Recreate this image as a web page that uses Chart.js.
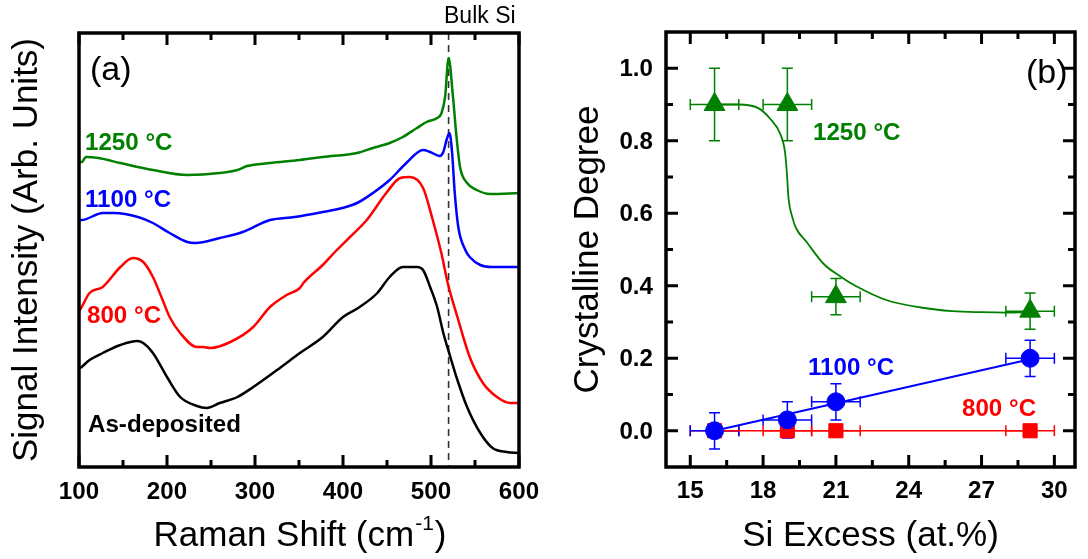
<!DOCTYPE html>
<html>
<head>
<meta charset="utf-8">
<title>Raman spectra and crystalline degree</title>
<script src="https://cdn.jsdelivr.net/npm/chart.js@4.4.1/dist/chart.umd.min.js"></script>
<style>
  html, body { margin: 0; padding: 0; background: #fff; }
  #wrap { position: relative; width: 1088px; height: 559px; overflow: hidden; background: #fff; }
  canvas { position: absolute; top: 0; }
</style>
</head>
<body>
<div id="wrap">
  <canvas id="ramanChart" width="544" height="559" style="left:0"></canvas>
  <canvas id="crystChart" width="544" height="559" style="left:544px"></canvas>
</div>
<script>
// ---- panel (a): Raman spectra (intensity in arbitrary units) ----
const shiftAsDep = [100,103,112,127,147,166,173,184,200,215,234,245,260,280,298,325,351,377,400,419,439,453,468,484,491,499,507,514,522,530,541,556,570,586,600];
const intAsDep   = [98,100,107,114,122,126,124,114,90,70,61,59,64,70,80,97,114,130,150,160,174,190,200,200,197,180,160,134,110,87,60,34,19,15,14];

const shift800 = [100,103,112,127,147,161,173,184,195,203,215,234,241,249,272,298,317,336,351,355,377,393,408,427,450,465,476,491,502,512,519,530,544,559,575,590,600];
const int800   = [156,160,174,180,200,209,205,190,167,150,134,120,120,119,125,140,160,172,179,184,202,217,230,247,275,289,290,279,247,213,184,150,110,84,70,64,64];

const shift1100 = [100,103,127,140,167,184,203,223,232,260,286,317,345,377,399,416,434,453,472,491,499,510,514,518,521,524,527,531,539,544,556,570,600];
const int1100   = [247,247,254,254,250,244,234,225,224,229,235,247,250,255,259,264,274,287,304,317,315,311,315,328,334,314,274,240,217,210,202,200,200];

const shift1250 = [100,103,108,122,147,184,223,260,280,291,317,351,377,416,434,453,468,484,495,507,512,516,520,525,529,533,541,552,567,600];
const int1250   = [305,305,310,309,304,297,292,294,297,301,304,307,310,314,319,324,330,339,345,349,354,370,409,370,330,300,284,277,273,274];

const bulkSiShift = 520;
const ramanTicks = [100, 200, 300, 400, 500, 600];
const ramanMinorTicks = [150, 250, 350, 450, 550];

// ---- panel (b): crystalline degree vs Si excess ----
const siExcess    = [16, 19, 21, 29];
const siExcessErr = [1, 1, 1, 1];
const cryst800    = [0, 0, 0, 0];
const cryst1100   = [0, 0.03, 0.08, 0.20];
const err1100     = [0.05, 0.05, 0.05, 0.05];
const cryst1250   = [0.90, 0.90, 0.37, 0.33];
const err1250     = [0.10, 0.10, 0.05, 0.05];

const fit800X  = [16, 29];
const fit800Y  = [0, 0];
const fit1100X = [16, 29];
const fit1100Y = [0, 0.197];
const fit1250X = [16, 17, 17.8, 18.3, 18.7, 18.9, 18.97, 19.05, 19.2, 19.35, 19.8, 20.5, 21.2, 21.8, 23.1, 24.5, 25.8, 27, 28, 29];
const fit1250Y = [0.90, 0.90, 0.89, 0.86, 0.82, 0.77, 0.72, 0.64, 0.59, 0.56, 0.52, 0.46, 0.425, 0.40, 0.36, 0.34, 0.33, 0.327, 0.326, 0.327];

const excessTicks = [15, 18, 21, 24, 27, 30];
const excessMinorTicks = [16.5, 19.5, 22.5, 25.5, 28.5];
const crystTicks = [0, 0.2, 0.4, 0.6, 0.8, 1.0];
const crystMinorTicks = [0.1, 0.3, 0.5, 0.7, 0.9];

const GREEN = '#008000', BLUE = '#0000ff', RED = '#ff0000', BLACK = '#000000';
const FONT = '"Liberation Sans", Arial, Helvetica, sans-serif';

function toXY(xs, ys) {
    return xs.map((x, i) => ({ x: x, y: ys[i] }));
}

function drawText(ctx, s, x, y, size, weight, color, align, stretch) {
    ctx.save();
    ctx.translate(x, y);
    ctx.scale(stretch || 1, 1);
    ctx.font = weight + ' ' + size + 'px ' + FONT;
    ctx.fillStyle = color;
    ctx.textAlign = align || 'left';
    ctx.textBaseline = 'alphabetic';
    ctx.fillText(s, 0, 0);
    ctx.restore();
}

// vertical title, x = baseline position, y = centre
function drawVText(ctx, s, x, y, size, color) {
    ctx.save();
    ctx.translate(x, y);
    ctx.rotate(-Math.PI / 2);
    ctx.font = size + 'px ' + FONT;
    ctx.fillStyle = color;
    ctx.textAlign = 'center';
    ctx.textBaseline = 'alphabetic';
    ctx.fillText(s, 0, 0);
    ctx.restore();
}

function drawFrame(ctx, area) {
    ctx.save();
    ctx.strokeStyle = BLACK;
    ctx.lineWidth = 3.5;
    ctx.strokeRect(area.left, area.top, area.right - area.left, area.bottom - area.top);
    ctx.restore();
}

// inward ticks
function xTicks(ctx, scale, area, values, len, sides) {
    ctx.save();
    ctx.strokeStyle = BLACK;
    ctx.lineWidth = 3;
    values.forEach(v => {
        const px = scale.getPixelForValue(v);
        ctx.beginPath();
        if (sides.includes('bottom')) { ctx.moveTo(px, area.bottom); ctx.lineTo(px, area.bottom - len); }
        if (sides.includes('top')) { ctx.moveTo(px, area.top); ctx.lineTo(px, area.top + len); }
        ctx.stroke();
    });
    ctx.restore();
}

function yTicks(ctx, scale, area, values, len, sides) {
    ctx.save();
    ctx.strokeStyle = BLACK;
    ctx.lineWidth = 3;
    values.forEach(v => {
        const py = scale.getPixelForValue(v);
        ctx.beginPath();
        if (sides.includes('left')) { ctx.moveTo(area.left, py); ctx.lineTo(area.left + len, py); }
        if (sides.includes('right')) { ctx.moveTo(area.right, py); ctx.lineTo(area.right - len, py); }
        ctx.stroke();
    });
    ctx.restore();
}

// ---------- panel (a) ----------
const ramanFrame = {
    id: 'ramanFrame',
    beforeDatasetsDraw(chart) {
        const { ctx, chartArea: a, scales } = chart;
        const px = scales.x.getPixelForValue(bulkSiShift);
        ctx.save();
        ctx.strokeStyle = '#333';
        ctx.lineWidth = 1.6;
        ctx.setLineDash([7, 5]);
        ctx.beginPath();
        ctx.moveTo(px, a.top);
        ctx.lineTo(px, a.bottom);
        ctx.stroke();
        ctx.restore();
    },
    afterDraw(chart) {
        const { ctx, chartArea: a, scales } = chart;
        drawFrame(ctx, a);
        xTicks(ctx, scales.x, a, ramanTicks, 12, ['top', 'bottom']);
        xTicks(ctx, scales.x, a, ramanMinorTicks, 7, ['top', 'bottom']);
        ramanTicks.forEach(v => {
            drawText(ctx, String(v), scales.x.getPixelForValue(v), 499, 23, 'bold', BLACK, 'center', 1.05);
        });

        // x title with superscript
        ctx.save();
        ctx.font = '35px ' + FONT;
        const main = 'Raman Shift (cm', tail = ')';
        const w1 = ctx.measureText(main).width;
        const w3 = ctx.measureText(tail).width;
        ctx.font = '21px ' + FONT;
        const w2 = ctx.measureText('-1').width;
        ctx.restore();
        let x0 = (a.left + a.right) / 2 - (w1 + w2 + w3) / 2;
        drawText(ctx, main, x0, 546, 35, 'normal', BLACK, 'left');
        drawText(ctx, '-1', x0 + w1 + 1, 530, 21, 'normal', BLACK, 'left');
        drawText(ctx, tail, x0 + w1 + w2 + 2, 546, 35, 'normal', BLACK, 'left');

        drawVText(ctx, 'Signal Intensity (Arb. Units)', 37, (a.top + a.bottom) / 2, 35, BLACK);

        drawText(ctx, '(a)', 90, 80, 34, 'normal', BLACK, 'left');
        drawText(ctx, 'Bulk Si', 444, 23, 23, 'normal', BLACK, 'left');
        drawText(ctx, '1250 °C', 85, 150, 23, 'bold', GREEN, 'left', 1.05);
        drawText(ctx, '1100 °C', 85, 207, 23, 'bold', BLUE, 'left', 1.05);
        drawText(ctx, '800 °C', 87, 323, 23, 'bold', RED, 'left', 1.05);
        drawText(ctx, 'As-deposited', 88, 432, 23, 'bold', BLACK, 'left', 1.05);
    }
};

function spectrum(label, xs, ys, color) {
    return {
        label: label,
        data: toXY(xs, ys),
        borderColor: color,
        borderWidth: 2.5,
        pointRadius: 0,
        fill: false,
        cubicInterpolationMode: 'monotone'
    };
}

new Chart(document.getElementById('ramanChart'), {
    type: 'line',
    data: {
        datasets: [
            spectrum('1250 °C', shift1250, int1250, GREEN),
            spectrum('1100 °C', shift1100, int1100, BLUE),
            spectrum('800 °C', shift800, int800, RED),
            spectrum('As-deposited', shiftAsDep, intAsDep, BLACK)
        ]
    },
    options: {
        responsive: false,
        animation: false,
        devicePixelRatio: 1,
        layout: { padding: { left: 79, top: 33, right: 25, bottom: 92 } },
        plugins: { legend: { display: false }, tooltip: { enabled: false } },
        scales: {
            x: { type: 'linear', min: 100, max: 600, display: false },
            y: { type: 'linear', min: 0, max: 434, display: false }
        }
    },
    plugins: [ramanFrame]
});

// ---------- panel (b) ----------
const OFF = 544; // canvas offset in the page

function errorBars(ctx, sx, sy, xs, ys, xerr, yerr, color) {
    const cap = 5.5;
    ctx.save();
    ctx.strokeStyle = color;
    ctx.lineWidth = 1.5;
    xs.forEach((x, i) => {
        const px = sx.getPixelForValue(x), py = sy.getPixelForValue(ys[i]);
        ctx.beginPath();
        if (xerr && xerr[i]) {
            const l = sx.getPixelForValue(x - xerr[i]), r = sx.getPixelForValue(x + xerr[i]);
            ctx.moveTo(l, py); ctx.lineTo(r, py);
            ctx.moveTo(l, py - cap); ctx.lineTo(l, py + cap);
            ctx.moveTo(r, py - cap); ctx.lineTo(r, py + cap);
        }
        if (yerr && yerr[i]) {
            const t = sy.getPixelForValue(ys[i] + yerr[i]), b = sy.getPixelForValue(ys[i] - yerr[i]);
            ctx.moveTo(px, t); ctx.lineTo(px, b);
            ctx.moveTo(px - cap, t); ctx.lineTo(px + cap, t);
            ctx.moveTo(px - cap, b); ctx.lineTo(px + cap, b);
        }
        ctx.stroke();
    });
    ctx.restore();
}

const crystFrame = {
    id: 'crystFrame',
    beforeDatasetsDraw(chart) {
        const { ctx, scales } = chart;
        errorBars(ctx, scales.x, scales.y, siExcess, cryst800, siExcessErr, null, RED);
        errorBars(ctx, scales.x, scales.y, siExcess, cryst1250, siExcessErr, err1250, GREEN);
        errorBars(ctx, scales.x, scales.y, siExcess, cryst1100, siExcessErr, err1100, BLUE);
    },
    afterDraw(chart) {
        const { ctx, chartArea: a, scales } = chart;
        drawFrame(ctx, a);
        xTicks(ctx, scales.x, a, excessTicks, 12, ['top', 'bottom']);
        xTicks(ctx, scales.x, a, excessMinorTicks, 7, ['top', 'bottom']);
        yTicks(ctx, scales.y, a, crystTicks, 12, ['left', 'right']);
        yTicks(ctx, scales.y, a, crystMinorTicks, 7, ['left', 'right']);
        excessTicks.forEach(v => {
            drawText(ctx, String(v), scales.x.getPixelForValue(v), 498, 23, 'bold', BLACK, 'center', 1.05);
        });
        crystTicks.forEach(v => {
            drawText(ctx, v.toFixed(1), 653 - OFF, scales.y.getPixelForValue(v) + 8, 23, 'bold', BLACK, 'right', 1.05);
        });
        drawText(ctx, 'Si Excess (at.%)', (a.left + a.right) / 2, 546, 35, 'normal', BLACK, 'center');
        drawVText(ctx, 'Crystalline Degree', 598 - OFF, (a.top + a.bottom) / 2, 35, BLACK);

        drawText(ctx, '(b)', 1026 - OFF, 83, 34, 'normal', BLACK, 'left');
        drawText(ctx, '1250 °C', 813 - OFF, 140, 23, 'bold', GREEN, 'left', 1.05);
        drawText(ctx, '1100 °C', 808 - OFF, 375, 23, 'bold', BLUE, 'left', 1.05);
        drawText(ctx, '800 °C', 962 - OFF, 416, 23, 'bold', RED, 'left', 1.05);
    }
};

function markers(label, ys, style, radius, color) {
    return {
        label: label,
        data: toXY(siExcess, ys),
        showLine: false,
        pointStyle: style,
        pointRadius: radius,
        pointHoverRadius: radius,
        pointBackgroundColor: color,
        pointBorderColor: color,
        pointBorderWidth: 1
    };
}

function fitLine(label, xs, ys, color, width) {
    return {
        label: label,
        data: toXY(xs, ys),
        showLine: true,
        borderColor: color,
        borderWidth: width,
        pointRadius: 0,
        fill: false,
        cubicInterpolationMode: 'monotone'
    };
}

new Chart(document.getElementById('crystChart'), {
    type: 'scatter',
    data: {
        datasets: [
            markers('1100 °C', cryst1100, 'circle', 9, BLUE),
            markers('800 °C', cryst800, 'rect', 10, RED),
            markers('1250 °C', cryst1250, 'triangle', 12, GREEN),
            fitLine('fit 1100', fit1100X, fit1100Y, BLUE, 2),
            fitLine('fit 800', fit800X, fit800Y, RED, 1.5),
            fitLine('fit 1250', fit1250X, fit1250Y, GREEN, 1.8)
        ]
    },
    options: {
        responsive: false,
        animation: false,
        devicePixelRatio: 1,
        layout: { padding: { left: 122, top: 32, right: 4, bottom: 92 } },
        plugins: { legend: { display: false }, tooltip: { enabled: false } },
        scales: {
            x: { type: 'linear', min: 14, max: 30.85, display: false },
            y: { type: 'linear', min: -0.1, max: 1.1, display: false }
        }
    },
    plugins: [crystFrame]
});
</script>
</body>
</html>
